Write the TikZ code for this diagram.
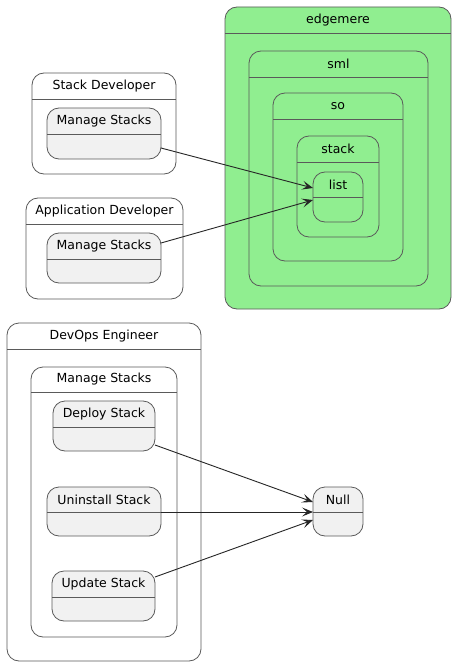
\documentclass[tikz,border=0pt]{standalone}
\usepackage{fontspec}
\setmainfont{DejaVu Sans}
\usetikzlibrary{arrows.meta}
\definecolor{stfill}{HTML}{F1F1F1}
\definecolor{stline}{HTML}{5A5A5A}
\definecolor{lgreen}{HTML}{90EE90}
\tikzset{
  statebox/.style={draw=stline, line width=0.8pt, rounded corners=12pt, inner sep=0pt, outer sep=0pt},
  divider/.style={draw=stline, line width=0.8pt},
  lbl/.style={inner sep=0pt, font=\fontsize{12.5}{15}\selectfont, text=black},
  arr/.style={draw=black!85, line width=0.9pt, -{Stealth[length=11pt,width=9pt,inset=5pt]}}
}
\newcommand\mystate[8]{%
  \node[statebox, fill=#8, minimum width={#4-#2}, minimum height={#5-#3}] (#1) at ({(#2+#4)/2},{(#3+#5)/2}) {};
  \draw[divider] (#2,#6) -- (#4,#6);
  \node[lbl] (#1-t) at ({(#2+#4)/2},{(#3+#6)/2}) {#7};
}
\begin{document}
\begin{tikzpicture}[x=1pt,y=-1pt]
\useasboundingbox[fill=white] (0,0) rectangle (457,666);
% edgemere nest
\mystate{edg}{225}{7}{451}{309}{33}{edgemere}{lgreen}
\mystate{sml}{249}{51}{428}{286}{77}{sml}{lgreen}
\mystate{so}{273}{93}{403}{261}{119}{so}{lgreen}
\mystate{stk}{297}{136}{379}{237}{162}{stack}{lgreen}
\mystate{lst}{313}{172}{363}{222}{197}{list}{lgreen}
% Stack Developer
\mystate{sd}{32}{73}{176}{174}{99}{Stack Developer}{white}
\mystate{sdms}{47}{108}{161}{159}{134}{Manage Stacks}{stfill}
% Application Developer
\mystate{ad}{26}{198}{183}{299}{224}{Application Developer}{white}
\mystate{adms}{47}{233}{161}{283}{259}{Manage Stacks}{stfill}
% DevOps Engineer
\mystate{doe}{7}{323}{201}{661}{349}{DevOps Engineer}{white}
\mystate{doms}{31}{367}{177}{637}{392}{Manage Stacks}{white}
\mystate{dep}{53}{401}{155}{451}{427}{Deploy Stack}{stfill}
\mystate{uni}{47}{487}{161}{536}{512}{Uninstall Stack}{stfill}
\mystate{upd}{52}{571}{155}{621}{597}{Update Stack}{stfill}
\mystate{nul}{313}{487}{363}{536}{512}{Null}{stfill}
% connectors
\draw[arr] ([yshift=-14.5pt]sdms.east) -- ([yshift=9pt]lst.west);
\draw[arr] ([yshift=15pt]adms.east) -- ([yshift=-3pt]lst.west);
\draw[arr] ([yshift=-19pt]dep.east) -- ([yshift=9.5pt]nul.west);
\draw[arr] ([yshift=-0.5pt]uni.east) -- ([yshift=-0.5pt]nul.west);
\draw[arr] ([yshift=19pt]upd.east) -- ([yshift=-8.5pt]nul.west);
\end{tikzpicture}
\end{document}
